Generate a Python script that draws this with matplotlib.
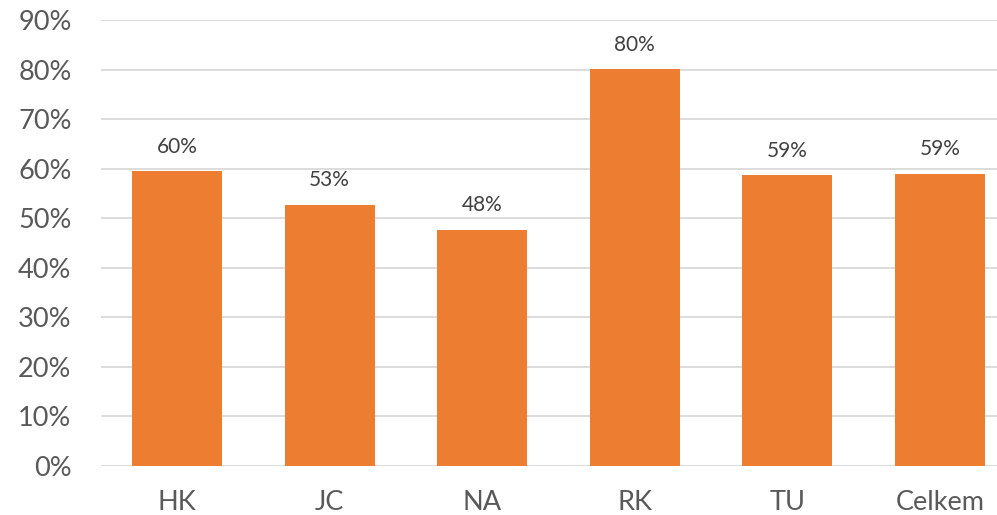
import matplotlib
matplotlib.use("Agg")
import matplotlib.pyplot as plt
from matplotlib.ticker import FuncFormatter

categories = ["HK", "JC", "NA", "RK", "TU", "Celkem"]
values = [59.5, 52.7, 47.6, 80.1, 58.7, 59.0]
yticks = [0, 10, 20, 30, 40, 50, 60, 70, 80, 90]

plt.rcParams['font.family'] = ['Lato', 'DejaVu Sans']

fig = plt.figure(figsize=(9.97, 5.15), dpi=100)
ax = fig.add_axes([100.7/997, 49.5/515, 915.6/997, 445.2/515])

x = list(range(len(categories)))
bars = ax.bar(x, values, width=0.59, color="#ED7D31", zorder=3)
for xi, v in zip(x, values):
    ax.annotate(f"{round(v):.0f}%", (xi, v), xytext=(0, 10.5), textcoords="offset points",
                ha="center", va="bottom", fontsize=15, color="#404040")

ax.set_xlim(-0.5, len(categories) - 0.5)
ax.set_ylim(0, 90)
ax.set_yticks(yticks)
ax.yaxis.set_major_formatter(FuncFormatter(lambda v, p: f"{v:.0f}%"))
ax.set_xticks(x)
ax.set_xticklabels(categories)
ax.tick_params(axis="both", length=0, labelsize=19.5, colors="#595959")
ax.tick_params(axis="y", pad=21)
ax.tick_params(axis="x", pad=18)
ax.grid(axis="y", color="#D9D9D9", linewidth=1.3, zorder=0)
for s in ax.spines.values():
    s.set_visible(False)

fig.savefig("out.png", dpi=100)
